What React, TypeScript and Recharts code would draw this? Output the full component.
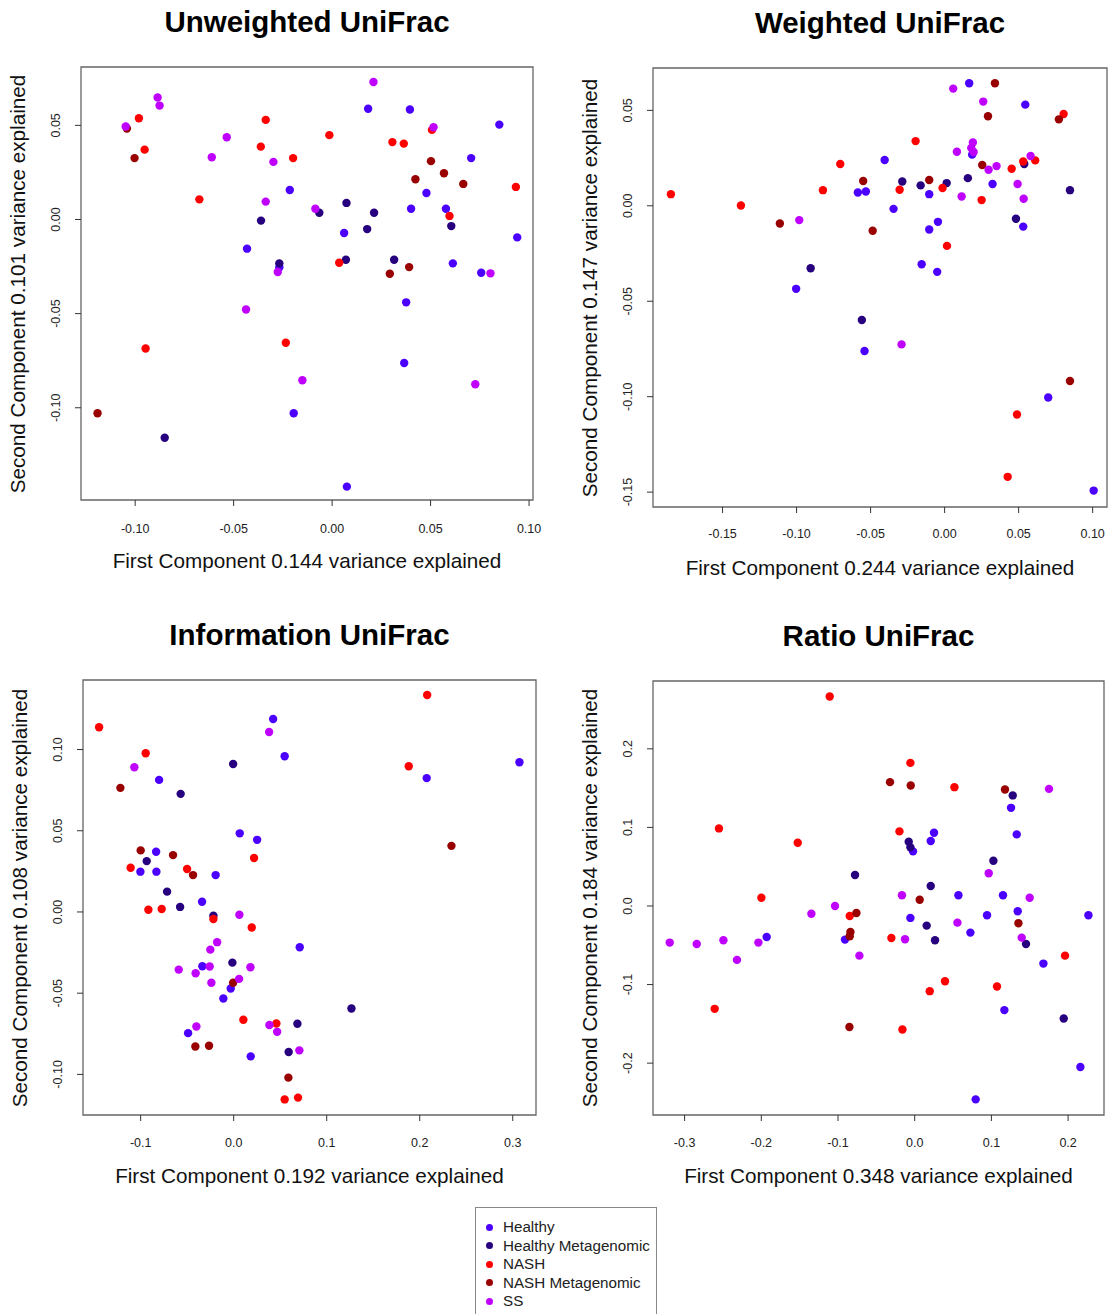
import { ScatterChart, Scatter, XAxis, YAxis, ReferenceArea } from "recharts";

const groups = ["Healthy", "Healthy Metagenomic", "NASH", "NASH Metagenomic", "SS"];
const colors = ["#4B00FF", "#26007F", "#FF0000", "#990000", "#BF00FF"];

// Unweighted UniFrac
const uwHealthy = [[-0.0215,0.0157],[-0.0432,-0.0155],[-0.0268,-0.0254],[-0.0195,-0.1029],[0.0183,0.0588],[0.0395,0.0584],[0.0849,0.0504],[0.0706,0.0326],[0.0479,0.0141],[0.0401,0.0057],[0.0578,0.0057],[0.0061,-0.0072],[0.094,-0.0095],[0.0613,-0.0233],[0.0757,-0.0283],[0.0376,-0.044],[0.0366,-0.0762],[0.0075,-0.1419]];
const uwHealthyMeta = [[-0.0361,-0.0006],[-0.0268,-0.0233],[-0.085,-0.1159],[0.0073,0.0088],[-0.0065,0.0036],[0.0213,0.0036],[0.0605,-0.0035],[0.0178,-0.0051],[0.007,-0.0214],[0.0315,-0.0214]];
const uwNash = [[-0.0981,0.0538],[-0.0952,0.0371],[-0.0337,0.0529],[-0.0362,0.0387],[-0.0198,0.0326],[-0.0674,0.0107],[-0.0235,-0.0655],[-0.0947,-0.0685],[0.0507,0.0476],[-0.0014,0.0448],[0.0306,0.0411],[0.0364,0.0403],[0.0933,0.0173],[0.0596,0.0019],[0.0036,-0.023]];
const uwNashMeta = [[-0.1042,0.0483],[-0.1003,0.0326],[-0.1191,-0.1029],[0.0502,0.031],[0.0568,0.0246],[0.0423,0.0214],[0.0666,0.0189],[0.0391,-0.0253],[0.0293,-0.0288]];
const uwSS = [[-0.0886,0.0648],[-0.0876,0.0605],[-0.1048,0.0494],[-0.0535,0.0437],[-0.0611,0.0331],[-0.0298,0.0306],[-0.0337,0.0095],[-0.0276,-0.0279],[-0.0437,-0.0478],[-0.0151,-0.0854],[0.021,0.073],[0.0515,0.049],[-0.0085,0.0057],[0.0804,-0.0286],[0.0727,-0.0875]];

// Weighted UniFrac
const wHealthy = [[-0.0586,0.007],[-0.0532,0.0075],[-0.1003,-0.0435],[-0.0541,-0.0761],[0.0166,0.0642],[0.0545,0.053],[0.0186,0.0268],[-0.0405,0.024],[-0.0104,0.0061],[0.0324,0.0114],[-0.0345,-0.0016],[-0.0045,-0.0084],[-0.0104,-0.0124],[0.0531,-0.0109],[-0.0155,-0.0306],[-0.005,-0.0346],[0.07,-0.1004],[0.1007,-0.1492]];
const wHealthyMeta = [[-0.0905,-0.0327],[-0.0559,-0.0598],[0.0538,0.0219],[-0.0286,0.0127],[-0.0162,0.0107],[0.0014,0.0119],[0.0157,0.0145],[0.0847,0.0082],[0.0482,-0.0068]];
const wNash = [[-0.1849,0.0061],[-0.1376,0.0002],[-0.0822,0.0082],[-0.0705,0.0219],[0.0804,0.0481],[-0.0196,0.0339],[0.0531,0.0232],[0.0612,0.0238],[0.0453,0.0194],[-0.0014,0.0093],[-0.0304,0.0084],[0.025,0.003],[0.0016,-0.021],[0.0489,-0.1093],[0.0426,-0.142]];
const wNashMeta = [[-0.1113,-0.0093],[-0.055,0.013],[-0.0486,-0.0131],[0.034,0.0642],[0.0293,0.0469],[0.0772,0.0453],[0.0254,0.0214],[-0.0104,0.0135],[0.0847,-0.0918]];
const wSS = [[-0.0982,-0.0075],[0.0058,0.0614],[0.0261,0.0546],[0.0191,0.0332],[0.018,0.0303],[0.0196,0.0282],[0.0083,0.0283],[0.0581,0.0261],[0.0297,0.0189],[0.0351,0.0208],[0.0493,0.0114],[0.0115,0.0049],[0.0534,0.0037],[-0.0291,-0.0726]];

// Information UniFrac
const iHealthy = [[-0.0802,0.0813],[0.0424,0.1188],[0.0548,0.0959],[0.0065,0.0484],[0.0252,0.0444],[-0.0834,0.0371],[-0.1003,0.0248],[-0.0831,0.0248],[-0.0194,0.0227],[-0.034,0.0063],[0.071,-0.0217],[-0.0337,-0.0334],[-0.0032,-0.0471],[-0.0111,-0.0533],[-0.049,-0.0746],[0.0183,-0.0889],[0.2075,0.0824],[0.3072,0.0922]];
const iHealthyMeta = [[-0.057,0.0727],[-0.0006,0.0911],[-0.0935,0.0313],[-0.0716,0.0125],[-0.0576,0.0031],[-0.0218,-0.0023],[-0.0014,-0.0312],[0.0685,-0.0688],[0.0591,-0.0862],[0.1266,-0.0594]];
const iNash = [[-0.1447,0.1137],[-0.0946,0.0977],[0.0219,0.0332],[-0.1108,0.0272],[-0.0501,0.0264],[-0.0917,0.0014],[-0.0774,0.0018],[-0.0218,-0.0043],[0.0194,-0.0096],[0.0104,-0.0664],[0.0459,-0.0687],[0.0548,-0.1154],[0.0692,-0.1143],[0.208,0.1336],[0.1882,0.0897]];
const iNashMeta = [[-0.1218,0.0764],[-0.1,0.0379],[-0.0652,0.035],[-0.0437,0.0227],[-0.0006,-0.0436],[-0.0412,-0.0828],[-0.0265,-0.0824],[0.0588,-0.102],[0.2341,0.0407]];
const iSS = [[-0.1068,0.0891],[0.0381,0.1108],[0.0061,-0.0017],[-0.0178,-0.0186],[-0.0251,-0.0232],[-0.0591,-0.0355],[-0.0409,-0.0377],[-0.0258,-0.0336],[0.018,-0.034],[-0.024,-0.0436],[0.0058,-0.0412],[0.0384,-0.0696],[0.0467,-0.0738],[-0.0401,-0.0705],[0.0706,-0.0852]];

// Ratio UniFrac
const rHealthy = [[-0.0909,-0.0428],[-0.193,-0.0394],[0.1256,0.1249],[0.0252,0.0931],[0.0209,0.0826],[-0.0022,0.0695],[0.133,0.0911],[0.057,0.0136],[0.1151,0.0136],[-0.0056,-0.0152],[0.0943,-0.0118],[0.1343,-0.0067],[0.2265,-0.0118],[0.0726,-0.0339],[0.1678,-0.0733],[0.1169,-0.1325],[0.216,-0.205],[0.0795,-0.2461]];
const rHealthyMeta = [[-0.0778,0.0394],[0.1278,0.1407],[-0.0078,0.0817],[-0.0056,0.0746],[0.1026,0.0576],[0.0209,0.0254],[0.0156,-0.025],[0.0265,-0.0436],[0.1451,-0.0483],[0.1943,-0.1432]];
const rNash = [[-0.1108,0.2665],[-0.2552,0.0987],[-0.1525,0.0804],[-0.1999,0.0105],[-0.0847,-0.0127],[-0.2608,-0.1309],[-0.0056,0.1821],[0.0518,0.1512],[-0.0199,0.0949],[-0.0304,-0.0407],[0.196,-0.0632],[0.0395,-0.0957],[0.0196,-0.1084],[0.1073,-0.1025],[-0.016,-0.1572]];
const rNashMeta = [[-0.076,-0.0089],[-0.0838,-0.033],[-0.0847,-0.0385],[-0.0851,-0.1541],[-0.0322,0.1576],[-0.0052,0.1534],[0.1177,0.1483],[0.0065,0.008],[0.1352,-0.022]];
const rSS = [[-0.1039,0],[-0.1347,-0.0098],[-0.3194,-0.0466],[-0.2842,-0.0483],[-0.2494,-0.0436],[-0.2038,-0.0466],[-0.2317,-0.0686],[-0.0721,-0.0632],[0.1751,0.149],[0.0965,0.0416],[-0.0166,0.0136],[0.1499,0.0105],[0.0557,-0.0212],[-0.0126,-0.0423],[0.1395,-0.0403]];

const uwXTicks = [-0.1, -0.05, 0, 0.05, 0.1];
const uwYTicks = [-0.1, -0.05, 0, 0.05];
const wXTicks = [-0.15, -0.1, -0.05, 0, 0.05, 0.1];
const wYTicks = [-0.15, -0.1, -0.05, 0, 0.05];
const iXTicks = [-0.1, 0, 0.1, 0.2, 0.3];
const iYTicks = [-0.1, -0.05, 0, 0.05, 0.1];
const rXTicks = [-0.3, -0.2, -0.1, 0, 0.1, 0.2];
const rYTicks = [-0.2, -0.1, 0, 0.1, 0.2];

const font = "'Liberation Sans', Arial, Helvetica, sans-serif";
const AXW = 60; // y axis width
const AXH = 60; // x axis height

const panels = [
  {
    title: "Unweighted UniFrac", xLabel: "First Component 0.144 variance explained", yLabel: "Second Component 0.101 variance explained",
    series: [uwHealthy, uwHealthyMeta, uwNash, uwNashMeta, uwSS],
    xDomain: [-0.1275, 0.102], yDomain: [-0.149, 0.081], xTicks: uwXTicks, yTicks: uwYTicks, xDig: 2, yDig: 2,
    left: 0, top: 0, w: 555, h: 600, box: { l: 81, r: 533, t: 67, b: 500 }, tickDy: 2,
  },
  {
    title: "Weighted UniFrac", xLabel: "First Component 0.244 variance explained", yLabel: "Second Component 0.147 variance explained",
    series: [wHealthy, wHealthyMeta, wNash, wNashMeta, wSS],
    xDomain: [-0.197, 0.1097], yDomain: [-0.1578, 0.0722], xTicks: wXTicks, yTicks: wYTicks, xDig: 2, yDig: 2,
    left: 560, top: 0, w: 549, h: 600, box: { l: 653, r: 1107, t: 68, b: 507 }, tickDy: 0,
  },
  {
    title: "Information UniFrac", xLabel: "First Component 0.192 variance explained", yLabel: "Second Component 0.108 variance explained",
    series: [iHealthy, iHealthyMeta, iNash, iNashMeta, iSS],
    xDomain: [-0.162, 0.325], yDomain: [-0.125, 0.1428], xTicks: iXTicks, yTicks: iYTicks, xDig: 1, yDig: 2,
    left: 0, top: 610, w: 555, h: 600, box: { l: 83, r: 536, t: 680, b: 1115 }, tickDy: 1,
  },
  {
    title: "Ratio UniFrac", xLabel: "First Component 0.348 variance explained", yLabel: "Second Component 0.184 variance explained",
    series: [rHealthy, rHealthyMeta, rNash, rNashMeta, rSS],
    xDomain: [-0.3412, 0.2468], yDomain: [-0.266, 0.2863], xTicks: rXTicks, yTicks: rYTicks, xDig: 1, yDig: 1,
    left: 560, top: 610, w: 549, h: 600, box: { l: 653, r: 1104, t: 681, b: 1115 }, tickDy: 1,
  },
];

const fmt = (v: number, d: number) => (Math.abs(v) < 1e-9 ? 0 : v).toFixed(d);

function Panel({ p }: { p: (typeof panels)[number] }) {
  const { box } = p;
  const margin = {
    top: box.t - p.top,
    left: box.l - p.left - AXW,
    right: p.left + p.w - box.r,
    bottom: p.top + p.h - box.b - AXH,
  };
  const cx = (box.l + box.r) / 2;
  const cy = (box.t + box.b) / 2;
  return (
    <>
      <div style={{ position: "absolute", left: cx - 250, width: 500, top: box.t - 62, height: 34, lineHeight: "34px", textAlign: "center", fontFamily: font, fontWeight: "bold", fontSize: 29.5, color: "#000" }}>
        {p.title}
      </div>
      <div style={{ position: "absolute", left: cx - 250, width: 500, top: box.b + 48, height: 26, lineHeight: "26px", textAlign: "center", fontFamily: font, fontSize: 20.7, color: "#111" }}>
        {p.xLabel}
      </div>
      <div style={{ position: "absolute", left: box.l - 63 - 250, width: 500, top: cy - 13, height: 26, lineHeight: "26px", textAlign: "center", fontFamily: font, fontSize: 20.7, color: "#111", transform: "rotate(-90deg)" }}>
        {p.yLabel}
      </div>
      <div style={{ position: "absolute", left: p.left, top: p.top }}>
        <ScatterChart width={p.w} height={p.h} margin={margin}>
          <XAxis
            type="number" dataKey="x" domain={p.xDomain} allowDataOverflow ticks={p.xTicks} interval={0}
            height={AXH} axisLine={false} tickSize={6} tickMargin={15} tickLine={{ stroke: "#333" }}
            tick={(t: any) => (
              <text x={t.x} y={t.y + 10 + p.tickDy} textAnchor="middle" fontSize={12.5} fontFamily={font} fill="#222">
                {fmt(t.payload.value, p.xDig)}
              </text>
            )}
          />
          <YAxis
            type="number" dataKey="y" domain={p.yDomain} allowDataOverflow ticks={p.yTicks} interval={0}
            width={AXW} axisLine={false} tickSize={6} tickMargin={15} tickLine={{ stroke: "#333" }}
            tick={(t: any) => (
              <text x={t.x} y={t.y} transform={`rotate(-90 ${t.x} ${t.y})`} textAnchor="middle" fontSize={12.5} fontFamily={font} fill="#222">
                {fmt(t.payload.value, p.yDig)}
              </text>
            )}
          />
          {p.series.map((s, gi) => (
            <Scatter
              key={groups[gi]}
              name={groups[gi]}
              data={s.map(([x, y]) => ({ x, y }))}
              isAnimationActive={false}
              shape={(d: any) => <circle cx={d.cx} cy={d.cy} r={4.2} fill={colors[gi]} />}
            />
          ))}
          <ReferenceArea x1={p.xDomain[0]} x2={p.xDomain[1]} y1={p.yDomain[0]} y2={p.yDomain[1]} fill="none" fillOpacity={0} stroke="#666" strokeWidth={1.3} />
        </ScatterChart>
      </div>
    </>
  );
}

export default function App() {
  return (
    <div style={{ position: "absolute", left: 0, top: 0, width: 1109, height: 1314, background: "#fff", overflow: "hidden" }}>
      {panels.map((p) => (
        <Panel key={p.title} p={p} />
      ))}
      <div style={{ position: "absolute", left: 475, top: 1207, width: 182, height: 120, border: "1px solid #888", boxSizing: "border-box" }}>
        {groups.map((g, i) => (
          <div key={g} style={{ position: "absolute", left: 0, top: 10 + i * 18.5, height: 18, lineHeight: "18px", whiteSpace: "nowrap", fontFamily: font, fontSize: 15.2, color: "#222" }}>
            <span style={{ position: "absolute", left: 10, top: 5.5, width: 7, height: 7, borderRadius: "50%", background: colors[i] }} />
            <span style={{ position: "absolute", left: 27 }}>{g}</span>
          </div>
        ))}
      </div>
    </div>
  );
}
